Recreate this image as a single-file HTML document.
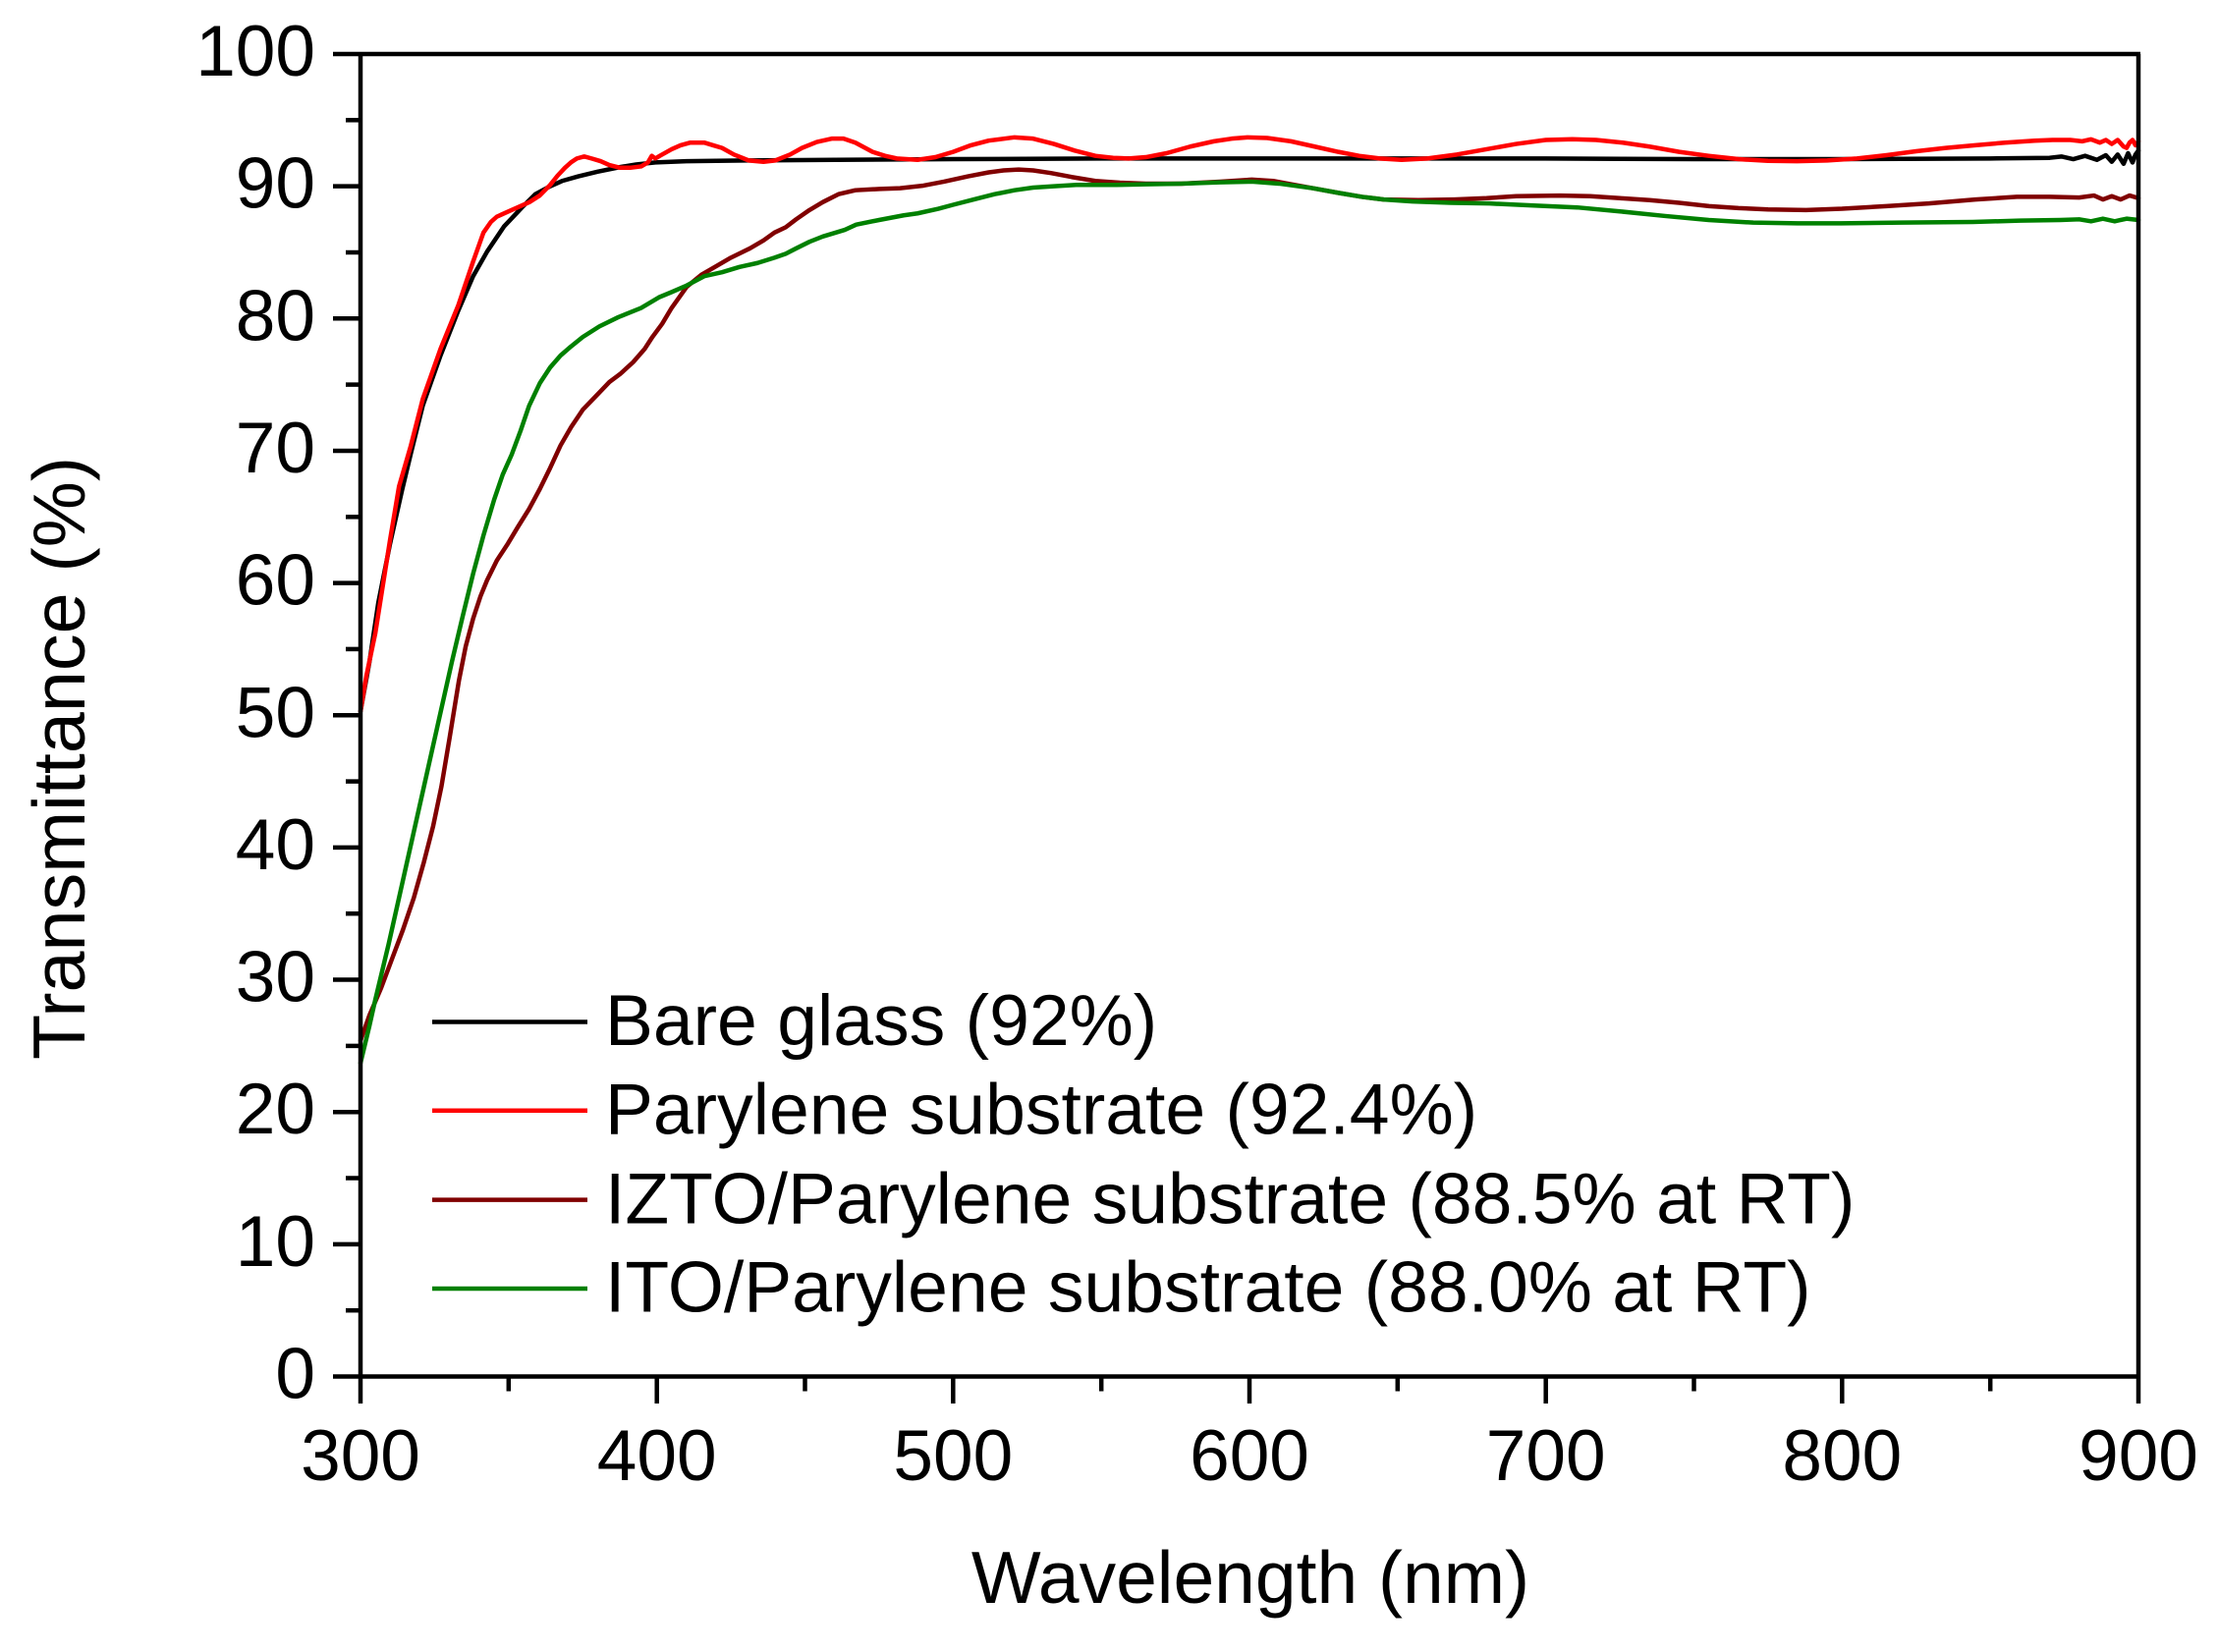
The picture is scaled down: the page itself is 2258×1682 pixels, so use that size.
<!DOCTYPE html>
<html>
<head>
<meta charset="utf-8">
<style>
html,body{margin:0;padding:0;background:#fff;}
svg{display:block;}
text{font-family:"Liberation Sans",Arial,sans-serif;fill:#000;}
</style>
</head>
<body>
<svg width="2258" height="1682" viewBox="0 0 2258 1682" xmlns="http://www.w3.org/2000/svg">
<rect width="2258" height="1682" fill="#fff"/>

<!-- curves -->
<g transform="matrix(3.016667 0 0 -13.465 -538 1401.5)" fill="none" stroke-linejoin="round" stroke-linecap="round">
<!-- Bare glass -->
<polyline vector-effect="non-scaling-stroke" stroke="#000" stroke-width="4.5" points="
300,50.3 303,54 306,58.5 310,63 314,67 317,69.8 321,73.4 327,77.2 333,80.6 338,83.2 342.7,85.05 348.4,86.95 354.5,88.4 359,89.4 364,90 368,90.4 373.5,90.75 380,91.1 387.6,91.45 393,91.65 399.5,91.8 410,91.9 430,91.95 460,92 500,92.05 550,92.1 600,92.1 650,92.1 700,92.1 750,92.05 800,92.05 850,92.1 870,92.15 874,92.25 878,92.05 882,92.3 886,92.0 889,92.35 891,91.85 893,92.4 895,91.7 896.5,92.5 898,91.8 899,92.4 900,92.7"/>
<!-- Parylene -->
<polyline vector-effect="non-scaling-stroke" stroke="#ff0000" stroke-width="4.5" points="
300,50.3 302,53 305,56.2 310,63.3 313,67.3 317,70.4 321,73.9 327,77.7 333,81 338,84.3 341.5,86.5 344,87.3 346,87.7 350,88.1 353,88.4 357,88.8 360.5,89.3 364,90.1 366.5,90.8 369,91.4 371,91.8 373,92.1 375.5,92.25 378,92.1 381,91.9 384,91.6 387.6,91.4 391,91.4 394.7,91.5 397,91.8 398.3,92.3 399.5,92.1 401,92.3 405,92.8 408,93.1 411.3,93.3 416,93.3 419,93.1 422,92.9 426,92.4 431,91.95 436,91.85 440,91.95 445,92.4 449,92.9 454,93.35 459,93.6 463,93.6 467,93.3 472.8,92.6 477,92.3 481,92.1 488,92 494,92.2 500,92.6 506,93.1 512,93.45 520.7,93.7 527,93.6 534,93.2 541,92.7 548,92.3 554,92.15 559.2,92.1 565,92.2 572,92.5 580,93 588,93.4 594,93.6 599.3,93.7 606,93.65 614,93.4 622,93 630,92.6 637,92.3 644,92.1 651.3,92 660,92.1 670,92.4 680,92.8 690,93.2 700,93.5 709,93.56 717,93.5 726,93.3 735,93 745,92.6 755,92.3 765,92.05 775,91.92 784.8,91.9 795,91.95 805,92.1 815,92.35 825,92.65 835,92.9 845,93.1 855,93.3 865,93.45 871,93.5 877,93.5 881,93.4 884,93.55 887,93.3 889,93.5 891,93.2 893,93.5 895,93.0 896,92.9 897,93.3 898,93.5 899,93.1 900,93.4"/>
<!-- IZTO -->
<polyline vector-effect="non-scaling-stroke" stroke="#800000" stroke-width="4.5" points="
300,25.4 303,27.3 307,29.4 310.5,31.5 314.2,33.7 318,36.2 321.4,38.9 324.5,41.6 327.3,44.6 330,48.2 333.2,52.6 335.5,55.2 338,57.3 340.5,59 342.7,60.2 346,61.7 349.8,63 353,64.2 356.9,65.6 360.5,67.1 364,68.7 367.5,70.4 371.1,71.8 375,73.1 380.6,74.4 384,75.2 387.6,75.8 392,76.7 395.9,77.7 398.5,78.6 401.8,79.6 405,80.8 410.1,82.4 415,83.3 419.6,83.9 425,84.6 431.4,85.3 436,85.9 439.7,86.5 443.5,86.9 447,87.5 451.5,88.2 456,88.8 461.3,89.4 467,89.7 475.2,89.8 482.1,89.85 490,90.05 496.9,90.35 505,90.75 512,91.05 517,91.2 522.1,91.26 527,91.2 533,91 540,90.7 548,90.4 556.3,90.27 565,90.2 577.1,90.2 590,90.35 600.8,90.5 608,90.4 614,90.15 621.5,89.85 630,89.5 638,89.2 645.3,89 657,88.95 669,89 680,89.1 690,89.25 704.7,89.3 715,89.25 725,89.1 735,88.95 745,88.75 755.1,88.5 765,88.35 775,88.25 787.8,88.2 800,88.3 815,88.5 829.3,88.7 845,89 859,89.2 870,89.2 880,89.15 885,89.3 888,89.0 891,89.25 894,89.0 897,89.3 900,89.1"/>
<!-- ITO -->
<polyline vector-effect="non-scaling-stroke" stroke="#008000" stroke-width="4.5" points="
300,23.7 303,26.5 305,28.5 309.5,32.7 315,38.2 321.4,44.6 326,49.2 330.8,54 334.5,57.5 338,60.7 341.5,63.6 345.1,66.3 348,68.2 351,69.7 354,71.5 356.9,73.4 360.5,75.1 364,76.3 367.5,77.2 371.1,77.9 375,78.6 380.6,79.4 387,80.1 394.7,80.8 400.7,81.6 405,82 410.1,82.5 416,83.2 422,83.5 427.9,83.9 434,84.2 439.7,84.6 443.5,84.9 447,85.3 451.5,85.8 456,86.2 463.4,86.7 467.3,87.1 475,87.45 483.3,87.8 488,87.95 495,88.3 500,88.6 507,89 514,89.4 520.7,89.7 527,89.9 534,90 541.5,90.1 555,90.1 565,90.15 577,90.2 590,90.3 600.8,90.35 610,90.2 621.5,89.85 630,89.5 638,89.2 645.3,89 655,88.85 668,88.75 681,88.7 695,88.55 710.6,88.4 725,88.1 740.3,87.75 755,87.45 770,87.25 785,87.2 799.6,87.2 820,87.25 844,87.3 860,87.4 873.6,87.45 880,87.5 884,87.35 888,87.55 892,87.35 896,87.55 900,87.45"/>
</g>

<!-- axes frame -->
<g stroke="#000" stroke-width="4.5" fill="none" stroke-linecap="butt">
<line x1="367" y1="55" x2="367" y2="1429"/>
<line x1="2177" y1="55" x2="2177" y2="1429"/>
<line x1="339" y1="55" x2="2179" y2="55"/>
<line x1="339" y1="1401.5" x2="2179" y2="1401.5"/>
<!-- y major ticks -->
<line x1="339" y1="189.65" x2="367" y2="189.65"/>
<line x1="339" y1="324.3" x2="367" y2="324.3"/>
<line x1="339" y1="458.95" x2="367" y2="458.95"/>
<line x1="339" y1="593.6" x2="367" y2="593.6"/>
<line x1="339" y1="728.25" x2="367" y2="728.25"/>
<line x1="339" y1="862.9" x2="367" y2="862.9"/>
<line x1="339" y1="997.55" x2="367" y2="997.55"/>
<line x1="339" y1="1132.2" x2="367" y2="1132.2"/>
<line x1="339" y1="1266.85" x2="367" y2="1266.85"/>
<!-- y minor ticks -->
<line x1="352" y1="122.3" x2="367" y2="122.3"/>
<line x1="352" y1="257" x2="367" y2="257"/>
<line x1="352" y1="391.6" x2="367" y2="391.6"/>
<line x1="352" y1="526.3" x2="367" y2="526.3"/>
<line x1="352" y1="660.9" x2="367" y2="660.9"/>
<line x1="352" y1="795.6" x2="367" y2="795.6"/>
<line x1="352" y1="930.2" x2="367" y2="930.2"/>
<line x1="352" y1="1064.9" x2="367" y2="1064.9"/>
<line x1="352" y1="1199.5" x2="367" y2="1199.5"/>
<line x1="352" y1="1334.2" x2="367" y2="1334.2"/>
<!-- x major ticks -->
<line x1="668.7" y1="1401.5" x2="668.7" y2="1429"/>
<line x1="970.3" y1="1401.5" x2="970.3" y2="1429"/>
<line x1="1272" y1="1401.5" x2="1272" y2="1429"/>
<line x1="1573.7" y1="1401.5" x2="1573.7" y2="1429"/>
<line x1="1875.3" y1="1401.5" x2="1875.3" y2="1429"/>
<!-- x minor ticks -->
<line x1="517.8" y1="1401.5" x2="517.8" y2="1416.5"/>
<line x1="819.5" y1="1401.5" x2="819.5" y2="1416.5"/>
<line x1="1121.2" y1="1401.5" x2="1121.2" y2="1416.5"/>
<line x1="1422.8" y1="1401.5" x2="1422.8" y2="1416.5"/>
<line x1="1724.5" y1="1401.5" x2="1724.5" y2="1416.5"/>
<line x1="2026.2" y1="1401.5" x2="2026.2" y2="1416.5"/>
</g>

<!-- y tick labels -->
<g font-size="73" text-anchor="end">
<text x="321" y="77">100</text>
<text x="321" y="211.7">90</text>
<text x="321" y="346.3">80</text>
<text x="321" y="481">70</text>
<text x="321" y="615.6">60</text>
<text x="321" y="750.3">50</text>
<text x="321" y="884.9">40</text>
<text x="321" y="1019.6">30</text>
<text x="321" y="1154.2">20</text>
<text x="321" y="1288.9">10</text>
<text x="321" y="1423.5">0</text>
</g>

<!-- x tick labels -->
<g font-size="73" text-anchor="middle">
<text x="367" y="1507">300</text>
<text x="668.7" y="1507">400</text>
<text x="970.3" y="1507">500</text>
<text x="1272" y="1507">600</text>
<text x="1573.7" y="1507">700</text>
<text x="1875.3" y="1507">800</text>
<text x="2177" y="1507">900</text>
</g>

<!-- axis titles -->
<text x="1273" y="1632" font-size="75" text-anchor="middle">Wavelength (nm)</text>
<text transform="translate(86,772) rotate(-90)" font-size="75.5" text-anchor="middle">Transmittance (%)</text>

<!-- legend -->
<g stroke-width="4.5">
<line x1="440" y1="1040.5" x2="598" y2="1040.5" stroke="#000"/>
<line x1="440" y1="1130.7" x2="598" y2="1130.7" stroke="#ff0000"/>
<line x1="440" y1="1221.6" x2="598" y2="1221.6" stroke="#800000"/>
<line x1="440" y1="1312" x2="598" y2="1312" stroke="#008000"/>
</g>
<g font-size="73.3">
<text x="616" y="1064">Bare glass (92%)</text>
<text x="616" y="1154.5">Parylene substrate (92.4%)</text>
<text x="616" y="1245.5">IZTO/Parylene substrate (88.5% at RT)</text>
<text x="616" y="1335.5">ITO/Parylene substrate (88.0% at RT)</text>
</g>
</svg>
</body>
</html>
